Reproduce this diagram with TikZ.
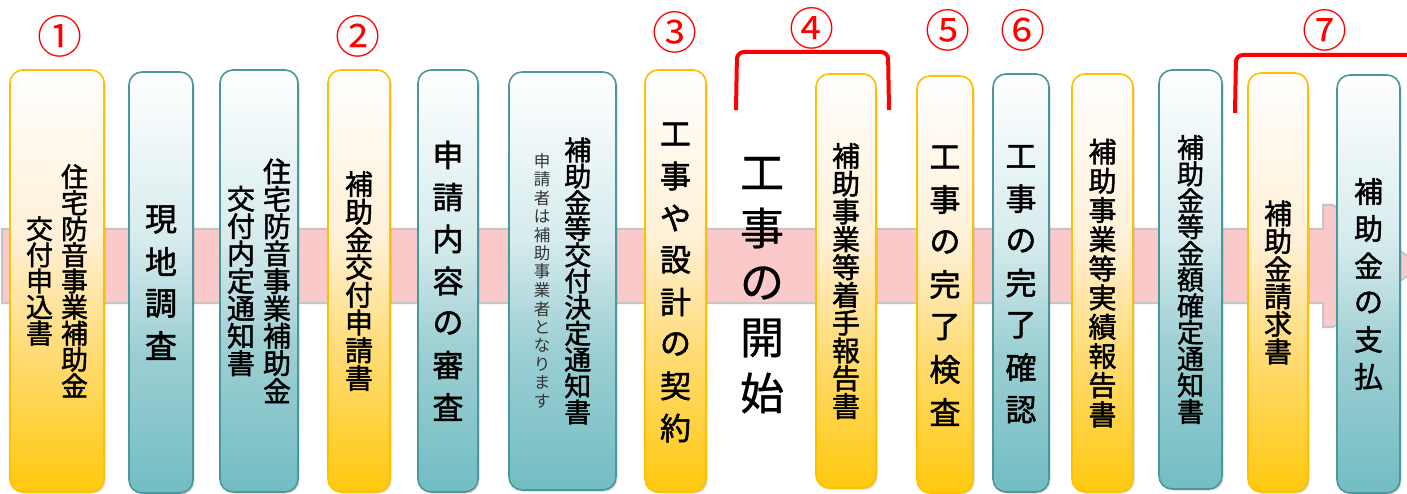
\documentclass[tikz,border=0pt]{standalone}
\usepackage{fontspec}
\setmainfont{Noto Sans CJK JP}
\newfontfamily\medfont{Noto Sans CJK JP}[FakeBold=1.6]
\newfontfamily\semifont{Noto Sans CJK JP}[FakeBold=0.8]
\usetikzlibrary{shadows}
\definecolor{ya}{HTML}{FFC90E}
\definecolor{yb}{HTML}{FFDC78}
\definecolor{yc}{HTML}{FFF0D6}
\definecolor{yd}{HTML}{FFFFFF}
\definecolor{yborder}{HTML}{FFC000}
\definecolor{ta}{HTML}{72BDC3}
\definecolor{tb}{HTML}{9DCFD3}
\definecolor{tc}{HTML}{D6EBED}
\definecolor{td}{HTML}{FFFFFF}
\definecolor{tborder}{HTML}{4A979C}
\definecolor{pinkband}{HTML}{FACACB}
\definecolor{bandedge}{HTML}{C9C4C4}
\pgfdeclareverticalshading{yshade}{100bp}{color(0bp)=(ya); color(25bp)=(ya); color(42bp)=(yb); color(55bp)=(yc); color(75bp)=(yd); color(100bp)=(yd)}
\pgfdeclareverticalshading{tshade}{100bp}{color(0bp)=(ta); color(25bp)=(ta); color(42bp)=(tb); color(55bp)=(tc); color(75bp)=(td); color(100bp)=(td)}
\makeatletter
\newcommand\vcol[2]{\vbox{\offinterlineskip\@tfor\vc@ch:=#2\do{\vbox to #1pt{\vss\hbox to 1em{\hss\vc@ch\hss}\vss}}}}
\makeatother
\newcommand\fs[1]{\fontsize{#1}{#1}\selectfont}
\newcommand\card[7]{%
  \pgfmathsetmacro\cardw{#5-#3}\pgfmathsetmacro\cardh{#6-#4}%
  \pgfmathsetmacro\cardx{(#3+#5)/2}\pgfmathsetmacro\cardy{(#4+#6)/2}%
  \node[#2, minimum width=\cardw pt, minimum height=\cardh pt] (#1) at (\cardx,\cardy) {#7};}
\tikzset{
  card/.style={rounded corners=13pt, line width=1.6pt, inner sep=0pt,
    drop shadow={shadow xshift=1.5pt, shadow yshift=-1.5pt, opacity=0.25, fill=black!60}},
  ycard/.style={card, draw=yborder, shading=yshade},
  tcard/.style={card, draw=tborder, shading=tshade},
  num/.style={text=red, inner sep=0pt, font=\fs{45}},
  brk/.style={draw=red, line width=4pt, rounded corners=7pt},
}
\begin{document}
\begin{tikzpicture}[x=1pt, y=-1pt]
\useasboundingbox (0,0) rectangle (1407,494);
\fill[white] (0,0) rectangle (1407,494);
% background arrow band
\draw[line width=2pt, draw=bandedge, fill=pinkband]
  (2,229) -- (1323,229) -- (1323,205) -- (1333,205) -- (1422,266)
  -- (1333,327) -- (1323,327) -- (1323,303) -- (2,303) -- cycle;
% brackets
\draw[brk] (736,110) -- (737,52) -- (888,52) -- (889,110);
\draw[brk] (1235,113) -- (1236,55) -- (1415,55);
% circled numbers
\node[num] (n1) at (60,36) {①};
\node[num] (n2) at (358,36) {②};
\node[num] (n3) at (675,32) {③};
\node[num] (n4) at (812,28) {④};
\node[num] (n5) at (948,30) {⑤};
\node[num] (n6) at (1023,30) {⑥};
\node[num] (n7) at (1325,30) {⑦};
% cards
\card{b1}{ycard}{10}{70}{104}{492}{\fs{27}\medfont\hbox{$\vcenter{\vcol{26.1}{交付申込書}}$\hspace{8pt}$\vcenter{\vcol{26.1}{住宅防音事業補助金}}$}}
\card{b2}{tcard}{129}{72}{193}{493}{\fs{32}\medfont\vcol{42}{現地調査}}
\card{b3}{tcard}{220}{70}{298}{492}{\fs{28}\medfont\hbox{$\vcenter{\vcol{27.4}{交付内定通知書}}$\hspace{8pt}$\vcenter{\vcol{27.4}{住宅防音事業補助金}}$}}
\card{b4}{ycard}{328}{70}{390}{492}{\fs{28}\medfont\vcol{27.7}{補助金交付申請書}}
\card{b5}{tcard}{418}{70}{478}{492}{\fs{31}\medfont\vcol{42}{申請内容の審査}}
\card{b6}{tcard}{509}{72}{616}{490}{\hbox{$\vcenter{\fs{16.5}\color{black!80}\vcol{18.5}{申請者は補助事業者となります}}$\hspace{14pt}$\vcenter{\fs{27}\medfont\vcol{26.2}{補助金等交付決定通知書}}$}}
\card{b7}{ycard}{645}{70}{706}{492}{\fs{31}\medfont\vcol{42}{工事や設計の契約}}
\node (kaishi) at (762,283) {\fs{44}\semifont\vcol{55}{工事の開始}};
\card{b8}{ycard}{816}{74}{876}{488}{\fs{28}\medfont\vcol{27.8}{補助事業等着手報告書}}
\card{b9}{ycard}{917}{76}{973}{493}{\fs{31}\medfont\vcol{42.5}{工事の完了検査}}
\card{b10}{tcard}{993}{74}{1049}{492}{\fs{31}\medfont\vcol{42.2}{工事の完了確認}}
\card{b11}{ycard}{1072}{74}{1133}{492}{\fs{28}\medfont\vcol{29.2}{補助事業等実績報告書}}
\card{b12}{tcard}{1159}{70}{1222}{489}{\fs{27}\medfont\vcol{26.4}{補助金等金額確定通知書}}
\card{b13}{ycard}{1248}{73}{1308}{492}{\fs{28}\medfont\vcol{27.6}{補助金請求書}}
\card{b14}{tcard}{1337}{75}{1400}{493}{\fs{29}\medfont\vcol{37}{補助金の支払}}
\end{tikzpicture}
\end{document}
